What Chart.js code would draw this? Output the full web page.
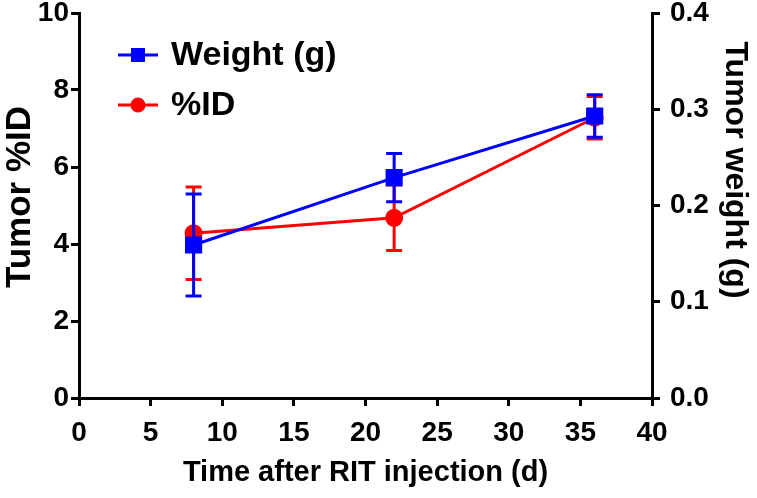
<!DOCTYPE html>
<html>
<head>
<meta charset="utf-8">
<script src="https://cdn.jsdelivr.net/npm/chart.js@4/dist/chart.umd.min.js"></script>
<style>
  html, body { margin: 0; padding: 0; background: #fff; }
  #wrap { width: 757px; height: 498px; }
</style>
</head>
<body>
<div id="wrap"><canvas id="chart"></canvas></div>
<script>
// ----- DATI -----
const days = [8, 22, 36];
const weightG = [0.159, 0.229, 0.293];
const weightErr = [0.053, 0.025, 0.022];
const percentID = [4.28, 4.68, 7.28];
const percentIDErr = [1.2, 0.85, 0.55];

const xTicks = [0, 5, 10, 15, 20, 25, 30, 35, 40];
const leftTicks = [0, 2, 4, 6, 8, 10];
const rightTicks = [0, 0.1, 0.2, 0.3, 0.4];

const leftTitle = 'Tumor %ID';
const rightTitle = 'Tumor weight (g)';

const BLUE = '#0000ff';
const RED = '#ff0000';
const FONT = "'Liberation Sans', Arial, sans-serif";

// barre d'errore disegnate sotto ogni serie
const errorBars = {
    id: 'errorBars',
    beforeDatasetDraw(chart, args) {
        const ds = chart.data.datasets[args.index];
        if (!ds.errors) return;
        const yScale = chart.scales[ds.yAxisID];
        const meta = chart.getDatasetMeta(args.index);
        const ctx = chart.ctx;
        ctx.save();
        ctx.strokeStyle = ds.borderColor;
        ctx.lineWidth = 3;
        meta.data.forEach((pt, i) => {
            const v = ds.data[i].y;
            const e = ds.errors[i];
            const top = yScale.getPixelForValue(v + e);
            const bot = yScale.getPixelForValue(v - e);
            ctx.beginPath();
            ctx.moveTo(pt.x, top); ctx.lineTo(pt.x, bot);
            ctx.moveTo(pt.x - 8, top); ctx.lineTo(pt.x + 8, top);
            ctx.moveTo(pt.x - 8, bot); ctx.lineTo(pt.x + 8, bot);
            ctx.stroke();
        });
        ctx.restore();
    }
};

// legenda dentro l'area del grafico + titoli degli assi y
const insideLegend = {
    id: 'insideLegend',
    afterDraw(chart) {
        const ctx = chart.ctx;
        const a = chart.chartArea;
        const rows = [
            { ds: chart.data.datasets[0], y: a.top + 42 },
            { ds: chart.data.datasets[1], y: a.top + 92 }
        ];
        ctx.save();
        rows.forEach(r => {
            const x0 = a.left + 39, x1 = a.left + 79, cx = (x0 + x1) / 2;
            ctx.strokeStyle = r.ds.borderColor;
            ctx.fillStyle = r.ds.backgroundColor;
            ctx.lineWidth = 3;
            ctx.beginPath(); ctx.moveTo(x0, r.y); ctx.lineTo(x1, r.y); ctx.stroke();
            if (r.ds.pointStyle === 'rect') {
                ctx.fillRect(cx - 7, r.y - 7, 14, 14);
            } else {
                ctx.beginPath(); ctx.arc(cx, r.y, 7.5, 0, Math.PI * 2); ctx.fill();
            }
            ctx.fillStyle = '#000';
            ctx.font = 'bold 34px ' + FONT;
            ctx.textBaseline = 'middle';
            ctx.fillText(r.ds.label, a.left + 92, r.y + 1);
        });

        // titoli assi y
        ctx.fillStyle = '#000';
        ctx.textAlign = 'center';
        ctx.textBaseline = 'middle';
        ctx.save();
        ctx.font = 'bold 35px ' + FONT;
        ctx.translate(20, 197);
        ctx.rotate(-Math.PI / 2);
        ctx.fillText(leftTitle, 0, 0);
        ctx.restore();
        ctx.save();
        ctx.font = 'bold 32px ' + FONT;
        ctx.translate(735, 170);
        ctx.rotate(Math.PI / 2);
        ctx.fillText(rightTitle, 0, 0);
        ctx.restore();
        ctx.restore();
    }
};

const axisGrid = {
    drawOnChartArea: false,
    drawTicks: true,
    tickLength: 8,
    tickColor: '#000',
    lineWidth: 3
};
const tickFont = { family: FONT, size: 28, weight: 'bold', lineHeight: 0.9 };

// dimensioni fisse degli assi
function fixWidth(w) {
    return s => { s.width = w; s.paddingTop = 0; s.paddingBottom = 0; };
}
function fixHeight(h) {
    return s => { s.height = h; s.paddingLeft = 0; s.paddingRight = 0; };
}

new Chart(document.getElementById('chart'), {
    type: 'line',
    data: {
        datasets: [{
            label: 'Weight (g)',
            data: days.map((d, i) => ({ x: d, y: weightG[i] })),
            errors: weightErr,
            yAxisID: 'y1',
            borderColor: BLUE,
            backgroundColor: BLUE,
            borderWidth: 3,
            pointStyle: 'rect',
            pointRadius: 10,
            pointHoverRadius: 10
        }, {
            label: '%ID',
            data: days.map((d, i) => ({ x: d, y: percentID[i] })),
            errors: percentIDErr,
            yAxisID: 'y',
            borderColor: RED,
            backgroundColor: RED,
            borderWidth: 3,
            pointStyle: 'circle',
            pointRadius: 7.5,
            pointHoverRadius: 7.5
        }]
    },
    options: {
        responsive: true,
        maintainAspectRatio: false,
        animation: false,
        events: [],
        layout: { padding: { top: 13, right: 48, bottom: 11, left: 38 } },
        plugins: { legend: { display: false }, tooltip: { enabled: false } },
        scales: {
            x: {
                type: 'linear',
                min: 0, max: 40,
                afterBuildTicks: s => { s.ticks = xTicks.map(v => ({ value: v })); },
                afterFit: fixHeight(89),
                border: { color: '#000', width: 3 },
                grid: axisGrid,
                ticks: { color: '#000', font: tickFont, padding: 15, maxRotation: 0 },
                title: { display: true, text: 'Time after RIT injection (d)', color: '#000',
                         font: { family: FONT, size: 29, weight: 'bold', lineHeight: 1 },
                         padding: { top: 10, bottom: 0 } }
            },
            y: {
                position: 'left',
                min: 0, max: 10,
                afterBuildTicks: s => { s.ticks = leftTicks.map(v => ({ value: v })); },
                afterFit: fixWidth(41),
                border: { color: '#000', width: 3 },
                grid: axisGrid,
                ticks: { color: '#000', font: tickFont, padding: 2 }
            },
            y1: {
                position: 'right',
                min: 0, max: 0.4,
                afterBuildTicks: s => { s.ticks = rightTicks.map(v => ({ value: v })); },
                afterFit: fixWidth(57),
                border: { color: '#000', width: 3 },
                grid: axisGrid,
                ticks: { color: '#000', font: tickFont, padding: 10,
                         callback: v => v.toFixed(1) }
            }
        }
    },
    plugins: [errorBars, insideLegend]
});
</script>
</body>
</html>
